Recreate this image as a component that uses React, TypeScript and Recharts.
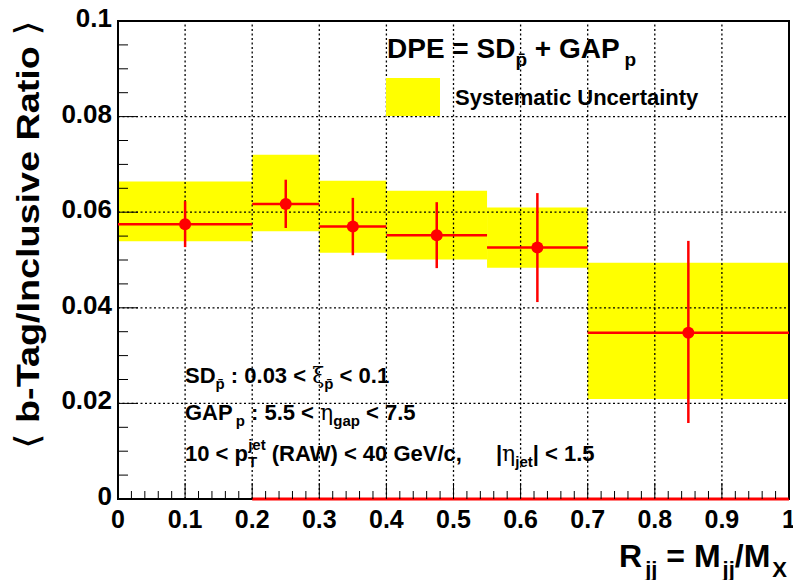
import React from "react";
import { ComposedChart, XAxis, YAxis, Scatter, ReferenceArea, ReferenceLine } from "recharts";

// bins in R_jj, measured b-tag/inclusive ratio with stat errors and systematic band
const BIN_LO = [0, 0.2, 0.3, 0.4, 0.55, 0.7];
const BIN_HI = [0.2, 0.3, 0.4, 0.55, 0.7, 1.0];
const BIN_CENTER = [0.1, 0.25, 0.35, 0.475, 0.625, 0.85];
const RATIO = [0.0575, 0.0617, 0.057, 0.0552, 0.0526, 0.0348];
const STAT_LO = [0.0527, 0.0567, 0.051, 0.0483, 0.0412, 0.0159];
const STAT_HI = [0.0623, 0.0668, 0.063, 0.0621, 0.064, 0.054];
const SYS_LO = [0.0539, 0.056, 0.0515, 0.0501, 0.0484, 0.0209];
const SYS_HI = [0.0664, 0.072, 0.0666, 0.0645, 0.061, 0.0494];
const ZERO_LINE = [0.2, 1.0];

const X_LABELS = ["0", "0.1", "0.2", "0.3", "0.4", "0.5", "0.6", "0.7", "0.8", "0.9", "1"];
const Y_LABELS = ["0", "0.02", "0.04", "0.06", "0.08", "0.1"];
const X_GRID = [0.1, 0.2, 0.3, 0.4, 0.5, 0.6, 0.7, 0.8, 0.9];
const Y_GRID = [0.02, 0.04, 0.06, 0.08];

const W = 793;
const H = 580;
const FONT = "'Liberation Sans', Arial, Helvetica, sans-serif";
const GREEK = "'DejaVu Serif', 'Liberation Serif', serif";
const RED = "#ff0000";
const YELLOW = "#ffff00";

// minor ticks every 0.02 on x, 0.005 on y
const X_TICKS = Array.from({ length: 51 }, (_, i) => i / 50);
const Y_TICKS = Array.from({ length: 21 }, (_, i) => i / 200);

const points = BIN_CENTER.map((x, i) => ({ x, y: RATIO[i] }));

function XTick(props: any) {
  const { x, y, payload } = props;
  const i = Math.round(payload.value * 50);
  const major = i % 5 === 0;
  return (
    <g>
      <line x1={x} x2={x} y1={y} y2={y - (major ? 16 : 8)} stroke="#000" strokeWidth={1} />
      {major && (
        <text x={x} y={y + 29} textAnchor="middle" fontFamily={FONT} fontWeight="bold" fontSize={25} fill="#000">
          {X_LABELS[i / 5]}
        </text>
      )}
    </g>
  );
}

function YTick(props: any) {
  const { x, y, payload } = props;
  const i = Math.round(payload.value * 200);
  const major = i % 4 === 0;
  return (
    <g>
      <line x1={x} x2={x + (major ? 20 : 10)} y1={y} y2={y} stroke="#000" strokeWidth={1} />
      {major && (
        <text x={x - 6} y={y + 6} textAnchor="end" fontFamily={FONT} fontWeight="bold" fontSize={26} fill="#000">
          {Y_LABELS[i / 4]}
        </text>
      )}
    </g>
  );
}

function Labels() {
  const txt = { fontFamily: FONT, fontWeight: "bold" as const, fill: "#000", style: { whiteSpace: "pre" as const } };
  return (
    <svg width={W} height={H} style={{ position: "absolute", left: 0, top: 0, pointerEvents: "none" }}>
      {/* y title, stretched along its length like the ROOT rendering */}
      <text transform="translate(39,20) rotate(-90) scale(1.18,1)" textAnchor="end" fontSize={32} {...txt}>
        <tspan fontFamily="'DejaVu Sans'" fontWeight="normal" fontSize={34}>⟨</tspan>
        <tspan>{" b-Tag/Inclusive Ratio "}</tspan>
        <tspan fontFamily="'DejaVu Sans'" fontWeight="normal" fontSize={34}>⟩</tspan>
      </text>

      {/* x title */}
      <text x={787} y={567} textAnchor="end" fontSize={32} {...txt}>
        <tspan>R</tspan>
        <tspan fontSize={22} dy={10} dx={3}>jj</tspan>
        <tspan dy={-10}>{" = M"}</tspan>
        <tspan fontSize={22} dy={10} dx={2}>jj</tspan>
        <tspan dy={-10}>/M</tspan>
        <tspan fontSize={22} dy={10} dx={2}>X</tspan>
      </text>

      {/* legend */}
      <text x={387} y={58} fontSize={28} {...txt}>
        <tspan>DPE = SD</tspan>
        <tspan fontSize={19} dy={8}>p̄</tspan>
        <tspan dy={-8}>{" + GAP"}</tspan>
        <tspan fontSize={19} dy={8} dx={5}>p</tspan>
      </text>
      <rect x={386} y={78} width={54} height={38} fill={YELLOW} />
      <text x={455} y={105} fontSize={22} {...txt}>
        Systematic Uncertainty
      </text>

      {/* selection cuts */}
      <text x={185} y={383} fontSize={22} {...txt}>
        <tspan>SD</tspan>
        <tspan fontSize={15} dy={6}>p̄</tspan>
        <tspan dy={-6}>{" : 0.03 < "}</tspan>
        <tspan fontFamily={GREEK} fontWeight="normal" fontSize={22}>ξ</tspan>
        <tspan fontSize={15} dy={6}>p̄</tspan>
        <tspan dy={-6}>{" < 0.1"}</tspan>
      </text>
      <text x={185} y={420} fontSize={22} {...txt}>
        <tspan>GAP</tspan>
        <tspan fontSize={15} dy={6} dx={3}>p</tspan>
        <tspan dy={-6}>{" : 5.5 < "}</tspan>
        <tspan fontFamily={GREEK} fontWeight="normal" fontSize={22}>η</tspan>
        <tspan fontSize={15} dy={6}>gap</tspan>
        <tspan dy={-6}>{" < 7.5"}</tspan>
      </text>
      <text x={185} y={461} fontSize={22} {...txt}>
        <tspan>{"10 < p"}</tspan>
        <tspan fontSize={15} dy={6}>T</tspan>
        <tspan fontSize={15} dx={-9} dy={-17}>jet</tspan>
        <tspan dy={11}>{" (RAW) < 40 GeV/c,"}</tspan>
        <tspan dx={34}>|</tspan>
        <tspan fontFamily={GREEK} fontWeight="normal" fontSize={22}>η</tspan>
        <tspan fontSize={15} dy={6}>jet</tspan>
        <tspan dy={-6}>{"| < 1.5"}</tspan>
      </text>
    </svg>
  );
}

export default function App() {
  return (
    <div style={{ position: "absolute", left: 0, top: 0, width: W, height: H, background: "#fff", overflow: "hidden" }}>
      <ComposedChart width={W} height={H} margin={{ top: 21, right: 4, left: 0, bottom: 0 }}>
        <XAxis
          type="number"
          dataKey="x"
          domain={[0, 1]}
          ticks={X_TICKS}
          interval={0}
          height={81}
          axisLine={false}
          tickLine={false}
          tickSize={0}
          tickMargin={0}
          tick={(p: any) => <XTick {...p} />}
        />
        <YAxis
          type="number"
          dataKey="y"
          domain={[0, 0.1]}
          ticks={Y_TICKS}
          interval={0}
          width={118}
          axisLine={false}
          tickLine={false}
          tickSize={0}
          tickMargin={0}
          tick={(p: any) => <YTick {...p} />}
        />

        {X_GRID.map((v) => (
          <ReferenceLine key={`gx${v}`} x={v} stroke="#000" strokeWidth={1.3} strokeDasharray="2 2.5" />
        ))}
        {Y_GRID.map((v) => (
          <ReferenceLine key={`gy${v}`} y={v} stroke="#000" strokeWidth={1.3} strokeDasharray="2 2.5" />
        ))}

        {BIN_LO.map((lo, i) => (
          <ReferenceArea key={`sys${i}`} x1={lo} x2={BIN_HI[i]} y1={SYS_LO[i]} y2={SYS_HI[i]} fill={YELLOW} fillOpacity={1} stroke="none" />
        ))}

        {BIN_LO.map((lo, i) => (
          <ReferenceLine
            key={`h${i}`}
            segment={[{ x: lo, y: RATIO[i] }, { x: BIN_HI[i], y: RATIO[i] }]}
            stroke={RED}
            strokeWidth={2.5}
          />
        ))}
        {BIN_CENTER.map((c, i) => (
          <ReferenceLine
            key={`v${i}`}
            segment={[{ x: c, y: STAT_LO[i] }, { x: c, y: STAT_HI[i] }]}
            stroke={RED}
            strokeWidth={2.5}
          />
        ))}

        <Scatter
          data={points}
          dataKey="y"
          isAnimationActive={false}
          shape={(p: any) => <circle cx={p.cx} cy={p.cy} r={6} fill={RED} />}
        />

        <ReferenceArea x1={0} x2={1} y1={0} y2={0.1} fill="none" stroke="#000" strokeWidth={2} />
        <ReferenceLine
          segment={[{ x: ZERO_LINE[0], y: 0 }, { x: ZERO_LINE[1], y: 0 }]}
          stroke={RED}
          strokeWidth={3}
        />
      </ComposedChart>
      <Labels />
    </div>
  );
}
